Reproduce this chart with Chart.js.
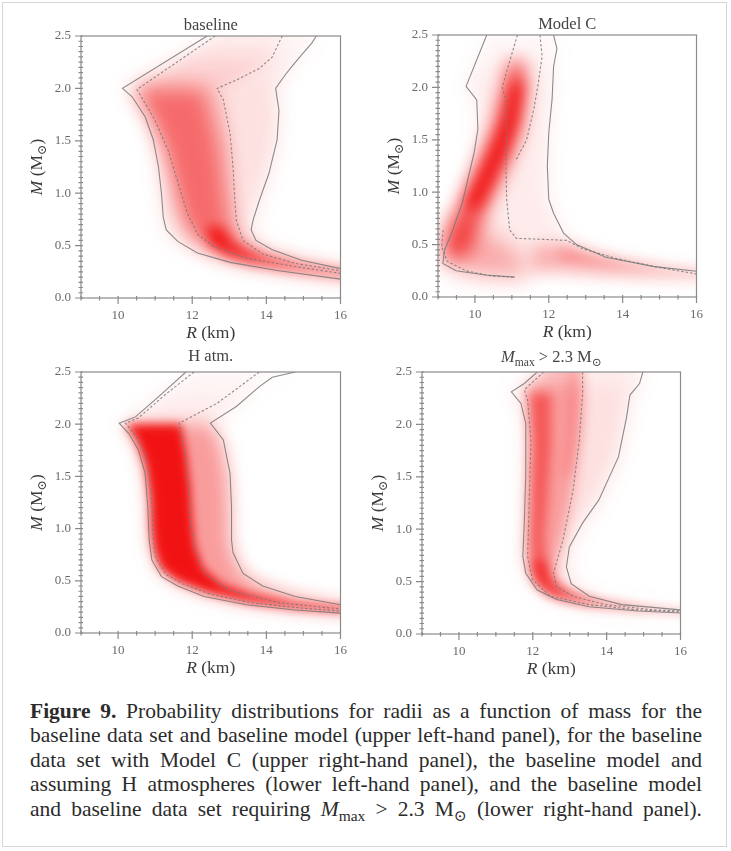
<!DOCTYPE html>
<html>
<head>
<meta charset="utf-8">
<title>Figure 9</title>
<script src="https://cdn.jsdelivr.net/npm/chart.js@4.4.1/dist/chart.umd.min.js"></script>
<style>
  body { margin: 0; background: #fff; }
  #page { position: relative; width: 731px; height: 851px; overflow: hidden; background: #fff; }
  #frame { position: absolute; left: 2px; top: 2px; width: 725px; height: 845px; border: 1px solid #d6d6d6; box-sizing: border-box; }
  canvas { position: absolute; }
  #caption { position: absolute; left: 30px; top: 699px; width: 672px; font-family: "Liberation Serif", "DejaVu Serif", serif; font-size: 21.5px; line-height: 24.4px; color: #2b2b2b; word-spacing: -0.5px; }
  #caption .ln { text-align: justify; text-align-last: justify; }
  #caption sub { font-size: 0.72em; line-height: 0; vertical-align: -0.3em; }
</style>
</head>
<body>
<div id="page">
  <div id="frame"></div>
  <canvas id="panelBaseline" width="342" height="336" style="left:15px;top:10px"></canvas>
  <canvas id="panelModelC" width="341" height="336" style="left:372px;top:9px"></canvas>
  <canvas id="panelHatm" width="342" height="335" style="left:15px;top:346px"></canvas>
  <canvas id="panelMmax" width="341" height="336" style="left:356px;top:346px"></canvas>
  <div id="caption">
    <div class="ln"><b>Figure 9.</b> Probability distributions for radii as a function of mass for the</div>
    <div class="ln">baseline data set and baseline model (upper left-hand panel), for the baseline</div>
    <div class="ln">data set with Model C (upper right-hand panel), the baseline model and</div>
    <div class="ln">assuming H atmospheres (lower left-hand panel), and the baseline model</div>
    <div class="ln">and baseline data set requiring <i>M</i><sub>max</sub> &gt; 2.3 M<sub>⊙</sub> (lower right-hand panel).</div>
  </div>
</div>
<script>
// Axes shared by every panel: R in km, M in solar masses
const rRange = [9, 16];
const mRange = [0, 2.5];
const rTicks = [10, 12, 14, 16];
const mTicks = [0, 0.5, 1.0, 1.5, 2.0, 2.5];

// ---- baseline: contours as [R, M], ordered from the top of the plot down to the tail
const baseOuterLeft = [[12.40, 2.50], [10.12, 2.00], [10.38, 1.92], [10.73, 1.73], [10.95, 1.51], [11.09, 1.25], [11.17, 1.00], [11.22, 0.77], [11.30, 0.65], [11.61, 0.54], [12.14, 0.43], [13.02, 0.34], [14.34, 0.26], [16.0, 0.18]];
const baseInnerLeft = [[12.62, 2.50], [10.51, 1.99], [10.99, 1.70], [11.35, 1.41], [11.65, 1.06], [11.87, 0.81], [12.14, 0.61], [12.58, 0.49], [13.46, 0.38], [14.78, 0.30], [16.0, 0.235]];
const baseInnerRight = [[14.43, 2.50], [14.29, 2.40], [14.16, 2.30], [13.81, 2.19], [13.19, 2.08], [12.67, 2.00], [12.84, 1.89], [13.02, 1.57], [13.10, 1.25], [13.15, 0.93], [13.19, 0.74], [13.37, 0.55], [13.90, 0.42], [14.78, 0.33], [16.0, 0.26]];
const baseOuterRight = [[15.35, 2.50], [15.22, 2.43], [14.95, 2.32], [14.69, 2.21], [14.51, 2.13], [14.25, 2.00], [14.34, 1.79], [14.29, 1.51], [14.07, 1.19], [13.81, 0.93], [13.64, 0.74], [13.59, 0.65], [13.72, 0.55], [14.16, 0.46], [14.95, 0.36], [16.0, 0.28]];
// where the probability piles up
const baseCoreLeft = [[10.45, 2.0], [10.9, 1.7], [11.25, 1.4], [11.45, 1.1], [11.6, 0.85], [11.9, 0.6], [12.4, 0.47], [13.3, 0.36], [14.6, 0.28], [16.0, 0.21]];
const baseCoreRight = [[12.3, 2.0], [12.55, 1.7], [12.75, 1.4], [12.85, 1.1], [12.95, 0.85], [13.05, 0.65], [13.3, 0.52], [13.9, 0.4], [15.0, 0.31], [16.0, 0.255]];
const basePeakLeft = [[12.35, 0.68], [12.5, 0.5], [12.95, 0.4], [13.6, 0.34], [14.6, 0.28], [16.0, 0.215]];
const basePeakRight = [[12.8, 0.68], [13.1, 0.53], [13.5, 0.45], [14.0, 0.39], [14.9, 0.315], [16.0, 0.255]];

// ---- Model C
const cOuterLeft = [[10.32, 2.50], [9.76, 2.01], [10.05, 1.88], [10.08, 1.60], [9.98, 1.38], [9.66, 0.90], [9.37, 0.61], [9.18, 0.45], [9.13, 0.32], [9.49, 0.25], [10.28, 0.21], [11.08, 0.19]];
const cLowerDashed = [[9.14, 0.64], [9.10, 0.48], [9.25, 0.34], [9.76, 0.25], [10.46, 0.20], [11.08, 0.19]];
const cInnerLeft = [[11.15, 2.50], [10.90, 2.20], [10.74, 2.00], [10.83, 1.89], [10.86, 1.57], [10.84, 1.25], [10.86, 0.93], [10.94, 0.64], [11.12, 0.56], [11.87, 0.55], [12.48, 0.54], [12.92, 0.46], [13.80, 0.37], [14.86, 0.29], [16.0, 0.22]];
const cInnerRight = [[11.76, 2.50], [11.82, 2.30], [11.72, 2.05], [11.60, 1.80], [11.40, 1.50], [11.10, 1.30]];
const cOuterRight = [[12.13, 2.50], [12.22, 2.37], [12.13, 2.20], [12.09, 1.89], [12.00, 1.57], [11.96, 1.25], [12.00, 0.93], [12.13, 0.80], [12.40, 0.61], [12.75, 0.50], [13.54, 0.38], [14.86, 0.29], [16.0, 0.245]];
const cTailLower = [[11.6, 0.25], [12.5, 0.24], [13.5, 0.215], [14.5, 0.20], [15.3, 0.19], [16.0, 0.185]];
const cTailUpper = [[11.6, 0.50], [12.5, 0.50], [13.2, 0.42], [14.2, 0.33], [15.2, 0.27], [16.0, 0.245]];
const cStreakUpper = [[12.3, 0.47], [13.0, 0.41], [14.0, 0.33], [15.0, 0.275], [16.0, 0.24]];
const cStreakLower = [[12.3, 0.36], [13.0, 0.335], [14.0, 0.285], [15.0, 0.245], [16.0, 0.215]];
const cRidgeLeft = [[10.9, 2.25], [10.75, 2.0], [10.45, 1.6], [10.1, 1.3], [9.7, 1.0], [9.35, 0.7], [9.2, 0.5], [9.25, 0.35]];
const cRidgeRight = [[11.35, 2.25], [11.4, 2.0], [11.25, 1.6], [10.95, 1.3], [10.55, 1.0], [10.15, 0.7], [9.9, 0.5], [9.8, 0.4]];
const cPeakLeft = [[11.0, 2.05], [10.8, 1.7], [10.45, 1.4], [10.05, 1.1], [9.7, 0.85]];
const cPeakRight = [[11.3, 2.05], [11.15, 1.7], [10.85, 1.4], [10.45, 1.1], [10.1, 0.85]];
const cBlobLeft = [[9.25, 0.75], [9.12, 0.5], [9.2, 0.32], [9.6, 0.24], [10.4, 0.2], [11.1, 0.19]];
const cBlobRight = [[9.9, 0.75], [10.6, 0.55], [11.2, 0.4], [11.5, 0.3], [11.6, 0.22]];

// ---- H atmospheres
const hOuterLeft = [[11.83, 2.50], [11.08, 2.26], [10.47, 2.07], [10.03, 2.01], [10.29, 1.91], [10.55, 1.75], [10.73, 1.53], [10.80, 1.21], [10.84, 0.89], [10.91, 0.70], [11.17, 0.54], [11.61, 0.45], [12.32, 0.35], [13.46, 0.27], [14.78, 0.22], [16.0, 0.19]];
const hInnerLeft = [[12.05, 2.50], [11.26, 2.28], [10.55, 2.06], [10.20, 2.01], [10.45, 1.90], [10.70, 1.75], [10.85, 1.50], [10.92, 1.20], [10.95, 0.90], [11.02, 0.72], [11.30, 0.56], [11.75, 0.47], [12.50, 0.37], [13.60, 0.29], [14.90, 0.24], [16.0, 0.21]];
const hInnerRight = [[13.81, 2.50], [12.67, 2.20], [11.65, 2.01], [11.79, 1.75], [11.92, 1.37], [11.96, 1.05], [12.05, 0.83], [12.32, 0.57], [13.02, 0.41], [14.34, 0.29], [16.0, 0.23]];
const hOuterRight = [[14.78, 2.50], [14.16, 2.45], [13.81, 2.36], [13.19, 2.17], [12.49, 2.01], [12.84, 1.85], [13.02, 1.53], [13.06, 1.21], [13.06, 0.89], [13.10, 0.77], [13.37, 0.57], [13.90, 0.45], [14.78, 0.35], [16.0, 0.27]];
const hCoreLeft = [[10.2, 2.0], [10.5, 1.85], [10.75, 1.6], [10.87, 1.3], [10.9, 1.0], [10.97, 0.8], [11.15, 0.62], [11.6, 0.5], [12.4, 0.39], [13.5, 0.3], [14.8, 0.24], [16.0, 0.205]];
const hCoreRight = [[11.7, 2.0], [11.85, 1.7], [11.95, 1.4], [12.0, 1.1], [12.07, 0.85], [12.3, 0.62], [12.8, 0.47], [13.6, 0.37], [14.8, 0.29], [16.0, 0.255]];
const hMidRight = [[12.5, 2.0], [12.8, 1.8], [12.95, 1.5], [13.0, 1.2], [13.0, 0.9], [13.1, 0.75], [13.35, 0.57], [13.9, 0.45], [14.8, 0.35], [16.0, 0.27]];

// ---- M_max > 2.3 Msun
const mOuterLeft = [[12.12, 2.50], [11.77, 2.39], [11.42, 2.31], [11.68, 2.20], [11.81, 2.01], [11.81, 1.53], [11.77, 1.06], [11.73, 0.74], [11.81, 0.58], [12.12, 0.42], [12.65, 0.33], [13.53, 0.26], [14.85, 0.22], [16.0, 0.20]];
const mInnerLeft = [[12.30, 2.50], [11.95, 2.39], [11.77, 2.33], [11.86, 2.23], [11.95, 1.85], [11.90, 1.21], [11.86, 0.74], [11.99, 0.52], [12.47, 0.36], [13.53, 0.28], [14.85, 0.23], [16.0, 0.21]];
const mInnerRight = [[13.35, 2.50], [13.35, 2.30], [13.26, 1.85], [13.09, 1.37], [12.82, 0.90], [12.56, 0.58], [12.65, 0.45], [13.09, 0.36], [13.97, 0.28], [15.29, 0.23], [16.0, 0.22]];
const mOuterRight = [[14.98, 2.50], [14.89, 2.39], [14.63, 2.28], [14.54, 2.07], [14.32, 1.69], [13.79, 1.28], [13.35, 1.06], [12.99, 0.83], [12.91, 0.64], [13.04, 0.48], [13.53, 0.36], [14.41, 0.28], [16.0, 0.23]];
const mStreakLeft = [[11.9, 2.3], [11.95, 1.8], [11.92, 1.3], [11.9, 0.9], [11.95, 0.65], [12.15, 0.48], [12.7, 0.36], [13.6, 0.29], [14.9, 0.235], [16.0, 0.205]];
const mStreakRight = [[12.5, 2.3], [12.5, 1.8], [12.4, 1.3], [12.3, 0.9], [12.4, 0.65], [12.6, 0.5], [13.1, 0.38], [13.9, 0.3], [15.0, 0.245], [16.0, 0.215]];
const mPeakLeft = [[11.95, 0.7], [12.05, 0.5], [12.4, 0.38], [13.2, 0.3], [14.5, 0.24], [16.0, 0.205]];
const mPeakRight = [[12.35, 0.7], [12.45, 0.52], [12.8, 0.42], [13.5, 0.33], [14.8, 0.26], [16.0, 0.22]];
const mUpperLeft = [[12.95, 2.5], [12.95, 2.0], [12.8, 1.5]];
const mUpperRight = [[13.3, 2.5], [13.3, 2.0], [13.05, 1.5]];

const SERIF = '"Liberation Serif", "DejaVu Serif", serif';
const LINE_COLOR = 'rgba(120,120,120,0.85)';
const AXIS_COLOR = '#8a8a8a';

// text pieces: [string, style] with style '' normal, 'i' italic, 's' subscript
function drawRich(ctx, parts, x, y, size, color) {
  const fontFor = st => (st === 'i' ? 'italic ' : '') + (st === 's' ? size * 0.7 : size) + 'px ' + SERIF;
  let total = 0;
  parts.forEach(([t, st]) => { ctx.font = fontFor(st); total += ctx.measureText(t).width; });
  let cx = x - total / 2;
  ctx.fillStyle = color;
  ctx.textAlign = 'left';
  ctx.textBaseline = 'alphabetic';
  parts.forEach(([t, st]) => {
    ctx.font = fontFor(st);
    ctx.fillText(t, cx, y + (st === 's' ? size * 0.22 : 0));
    cx += ctx.measureText(t).width;
  });
}

// Smooth red shading built from filled, blurred bands
const densityShade = {
  id: 'densityShade',
  beforeDatasetsDraw(chart, args, opts) {
    const {ctx, chartArea: a, scales: {x, y}} = chart;
    const toPx = pts => pts.map(([r, m]) => [x.getPixelForValue(r), y.getPixelForValue(m)]);
    ctx.save();
    ctx.beginPath();
    ctx.rect(a.left, a.top, a.right - a.left, a.bottom - a.top);
    ctx.clip();
    opts.bands.forEach(b => {
      const left = toPx(b.left);
      const right = toPx(b.right);
      // run edges that touch the frame past it so the blur doesn't thin them out
      [left, right].forEach((side, idx) => {
        const src = idx ? b.right : b.left;
        if (src[0][1] >= mRange[1]) side.unshift([side[0][0], side[0][1] - 25]);
        const last = src[src.length - 1];
        if (last[0] >= rRange[1]) { const p = side[side.length - 1]; side.push([p[0] + 25, p[1]]); }
      });
      const poly = left.concat(right.reverse());
      ctx.filter = 'blur(' + b.blur + 'px)';
      let fill = 'rgba(240,0,0,' + b.alpha + ')';
      if (b.fadeAbove !== undefined) {
        const g = ctx.createLinearGradient(0, y.getPixelForValue(b.fadeAbove), 0, a.top);
        g.addColorStop(0, 'rgba(240,0,0,' + b.alpha + ')');
        g.addColorStop(1, 'rgba(240,0,0,' + (b.alpha * b.fadeTo) + ')');
        fill = g;
      }
      ctx.fillStyle = fill;
      ctx.beginPath();
      poly.forEach(([px, py], i) => (i ? ctx.lineTo(px, py) : ctx.moveTo(px, py)));
      ctx.closePath();
      ctx.fill();
    });
    ctx.restore();
  }
};

// Frame, tick marks and the panel / axis titles
const panelDecor = {
  id: 'panelDecor',
  afterDraw(chart, args, opts) {
    const {ctx, chartArea: a, scales: {x, y}} = chart;
    ctx.save();
    ctx.strokeStyle = AXIS_COLOR;
    ctx.lineWidth = 1.2;
    ctx.strokeRect(a.left, a.top, a.right - a.left, a.bottom - a.top);
    ctx.beginPath();
    for (let k = 0; k <= (rRange[1] - rRange[0]) * 2; k++) {
      const v = rRange[0] + k * 0.5;
      const px = x.getPixelForValue(v);
      const major = rTicks.includes(v);
      ctx.moveTo(px, a.bottom - 2);
      ctx.lineTo(px, a.bottom + (major ? 6 : 2.5));
    }
    for (let k = 0; k <= 50; k++) {
      const py = y.getPixelForValue(k * 0.05);
      const major = k % 10 === 0;
      ctx.moveTo(a.left + 2, py);
      ctx.lineTo(a.left - (major ? 6 : 2.5), py);
    }
    ctx.stroke();

    const cx = (a.left + a.right) / 2;
    drawRich(ctx, opts.title, cx, a.top - opts.titleGap, 16.5, '#444');
    drawRich(ctx, [['R', 'i'], [' (km)', '']], cx, a.bottom + 40, 17.5, '#3a3a3a');
    ctx.translate(a.left - 39, (a.top + a.bottom) / 2);
    ctx.rotate(-Math.PI / 2);
    drawRich(ctx, [['M', 'i'], [' (M', ''], ['⊙', 's'], [')', '']], 0, 0, 17.5, '#3a3a3a');
    ctx.restore();
  }
};

function makePanel(id, title, titleGap, lines, bands) {
  return new Chart(document.getElementById(id), {
    type: 'scatter',
    data: {
      datasets: lines.map(l => ({
        data: l.pts.map(([r, m]) => ({x: r, y: m})),
        showLine: true,
        borderColor: LINE_COLOR,
        borderWidth: 1.1,
        borderDash: l.dashed ? [2.5, 2] : [],
        pointRadius: 0,
        fill: false
      }))
    },
    options: {
      responsive: false,
      animation: false,
      events: [],
      layout: {padding: {top: 26, right: 10, left: 0, bottom: 0}},
      plugins: {
        legend: {display: false},
        tooltip: {enabled: false},
        densityShade: {bands: bands},
        panelDecor: {title: title, titleGap: titleGap}
      },
      scales: {
        x: {
          type: 'linear',
          min: rRange[0],
          max: rRange[1],
          afterFit: s => { s.height = 48; },
          afterBuildTicks: s => { s.ticks = rTicks.map(v => ({value: v})); },
          grid: {display: false, drawTicks: false},
          border: {display: false},
          ticks: {font: {family: SERIF, size: 13}, color: '#6a6a6a', padding: 10, maxRotation: 0, callback: v => String(v)}
        },
        y: {
          type: 'linear',
          min: mRange[0],
          max: mRange[1],
          afterFit: s => { s.width = 66; },
          afterBuildTicks: s => { s.ticks = mTicks.map(v => ({value: v})); },
          grid: {display: false, drawTicks: false},
          border: {display: false},
          ticks: {font: {family: SERIF, size: 13}, color: '#6a6a6a', padding: 10, callback: v => v.toFixed(1)}
        }
      }
    },
    plugins: [densityShade, panelDecor]
  });
}

makePanel('panelBaseline', [['baseline', '']], 6,
  [
    {pts: baseOuterLeft}, {pts: baseInnerLeft, dashed: true},
    {pts: baseInnerRight, dashed: true}, {pts: baseOuterRight}
  ],
  [
    {left: baseOuterLeft, right: baseOuterRight, alpha: 0.12, blur: 10, fadeAbove: 2.0, fadeTo: 0.25},
    {left: baseInnerLeft, right: baseInnerRight, alpha: 0.14, blur: 8, fadeAbove: 2.0, fadeTo: 0.2},
    {left: baseCoreLeft, right: baseCoreRight, alpha: 0.45, blur: 10},
    {left: basePeakLeft, right: basePeakRight, alpha: 0.75, blur: 6}
  ]);

makePanel('panelModelC', [['Model C', '']], 6,
  [
    {pts: cOuterLeft}, {pts: cLowerDashed, dashed: true}, {pts: cInnerLeft, dashed: true},
    {pts: cInnerRight, dashed: true}, {pts: cOuterRight}
  ],
  [
    {left: cOuterLeft.concat(cTailLower), right: cOuterRight, alpha: 0.08, blur: 10, fadeAbove: 2.0, fadeTo: 0.3},
    {left: cBlobLeft, right: cBlobRight, alpha: 0.3, blur: 12},
    {left: cTailUpper, right: cTailLower, alpha: 0.26, blur: 8},
    {left: cStreakUpper, right: cStreakLower, alpha: 0.22, blur: 6},
    {left: cRidgeLeft, right: cRidgeRight, alpha: 0.65, blur: 9},
    {left: cPeakLeft, right: cPeakRight, alpha: 0.8, blur: 7}
  ]);

makePanel('panelHatm', [['H atm.', '']], 11,
  [
    {pts: hOuterLeft}, {pts: hInnerLeft, dashed: true},
    {pts: hInnerRight, dashed: true}, {pts: hOuterRight}
  ],
  [
    {left: hOuterLeft, right: hOuterRight, alpha: 0.1, blur: 10, fadeAbove: 2.0, fadeTo: 0.2},
    {left: hCoreLeft, right: hMidRight, alpha: 0.32, blur: 9},
    {left: hCoreLeft, right: hCoreRight, alpha: 0.88, blur: 5}
  ]);

makePanel('panelMmax', [['M', 'i'], ['max', 's'], [' > 2.3 M', ''], ['⊙', 's']], 10,
  [
    {pts: mOuterLeft}, {pts: mInnerLeft, dashed: true},
    {pts: mInnerRight, dashed: true}, {pts: mOuterRight}
  ],
  [
    {left: mOuterLeft, right: mOuterRight, alpha: 0.12, blur: 10, fadeAbove: 2.3, fadeTo: 0.5},
    {left: mInnerLeft, right: mInnerRight, alpha: 0.3, blur: 7, fadeAbove: 2.3, fadeTo: 0.6},
    {left: mUpperLeft, right: mUpperRight, alpha: 0.15, blur: 6},
    {left: mStreakLeft, right: mStreakRight, alpha: 0.45, blur: 6},
    {left: mPeakLeft, right: mPeakRight, alpha: 0.45, blur: 5}
  ]);
</script>
</body>
</html>
